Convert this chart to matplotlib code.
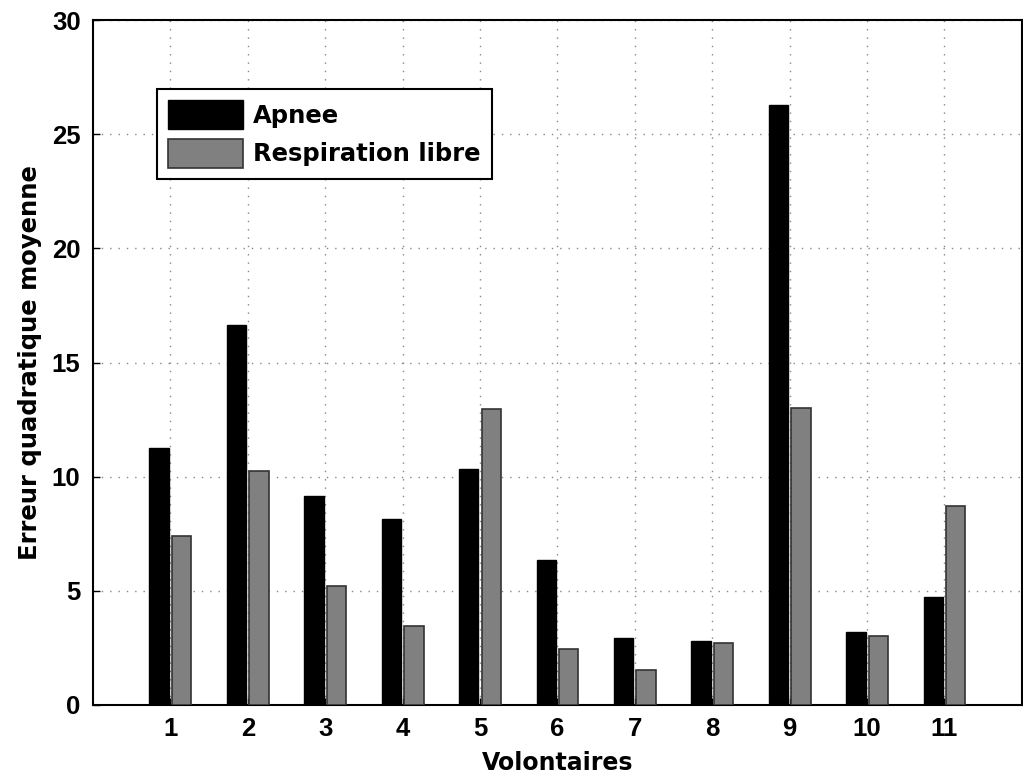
import numpy as np
import matplotlib.pyplot as plt

plt.rcParams['font.family'] = ['Liberation Sans', 'DejaVu Sans']

# Donnees
volontaires = [1, 2, 3, 4, 5, 6, 7, 8, 9, 10, 11]
apnee = [11.26, 16.66, 9.17, 8.14, 10.33, 6.37, 2.95, 2.79, 26.26, 3.18, 4.72]
resp_libre = [7.41, 10.27, 5.22, 3.47, 12.95, 2.47, 1.52, 2.72, 12.99, 3.04, 8.73]
y_ticks = [0, 5, 10, 15, 20, 25, 30]

fig = plt.figure(figsize=(10.23, 7.76), dpi=100)
ax = fig.add_axes([0.0909, 0.0915, 0.908, 0.8827])

x = np.array(volontaires)
larg = 0.25
ax.bar(x - 0.145, apnee, larg, color='black', edgecolor='black', linewidth=1.0,
       label='Apnee', zorder=3)
ax.bar(x + 0.145, resp_libre, larg, color='#808080', edgecolor='#333333', linewidth=1.2,
       label='Respiration libre', zorder=3)

ax.set_xlim(0, 12)
ax.set_ylim(0, 30)
ax.set_xticks(volontaires)
ax.set_yticks(y_ticks)
ax.tick_params(direction='in', length=5, width=1, labelsize=18.5, pad=9)
for lab in ax.get_xticklabels() + ax.get_yticklabels():
    lab.set_fontweight('bold')

ax.grid(True, linestyle=(0, (1, 5)), color='#888888', linewidth=1.0, zorder=0)
for s in ax.spines.values():
    s.set_linewidth(1.5)

police = ['DejaVu Sans']
ax.set_xlabel('Volontaires', fontsize=17, fontweight='bold', family=police, labelpad=7)
ax.set_ylabel('Erreur quadratique moyenne', fontsize=17.5, fontweight='bold', family=police,
              labelpad=7)

leg = ax.legend(loc='upper left', bbox_to_anchor=(0.069, 0.899), borderaxespad=0,
                prop={'family': police, 'size': 17.5, 'weight': 'bold'},
                handlelength=3.1, handleheight=1.45, fancybox=False, framealpha=1,
                edgecolor='black', borderpad=0.45, labelspacing=0.4, handletextpad=0.4)
leg.get_frame().set_linewidth(1.5)

fig.savefig('out.png', dpi=100)
